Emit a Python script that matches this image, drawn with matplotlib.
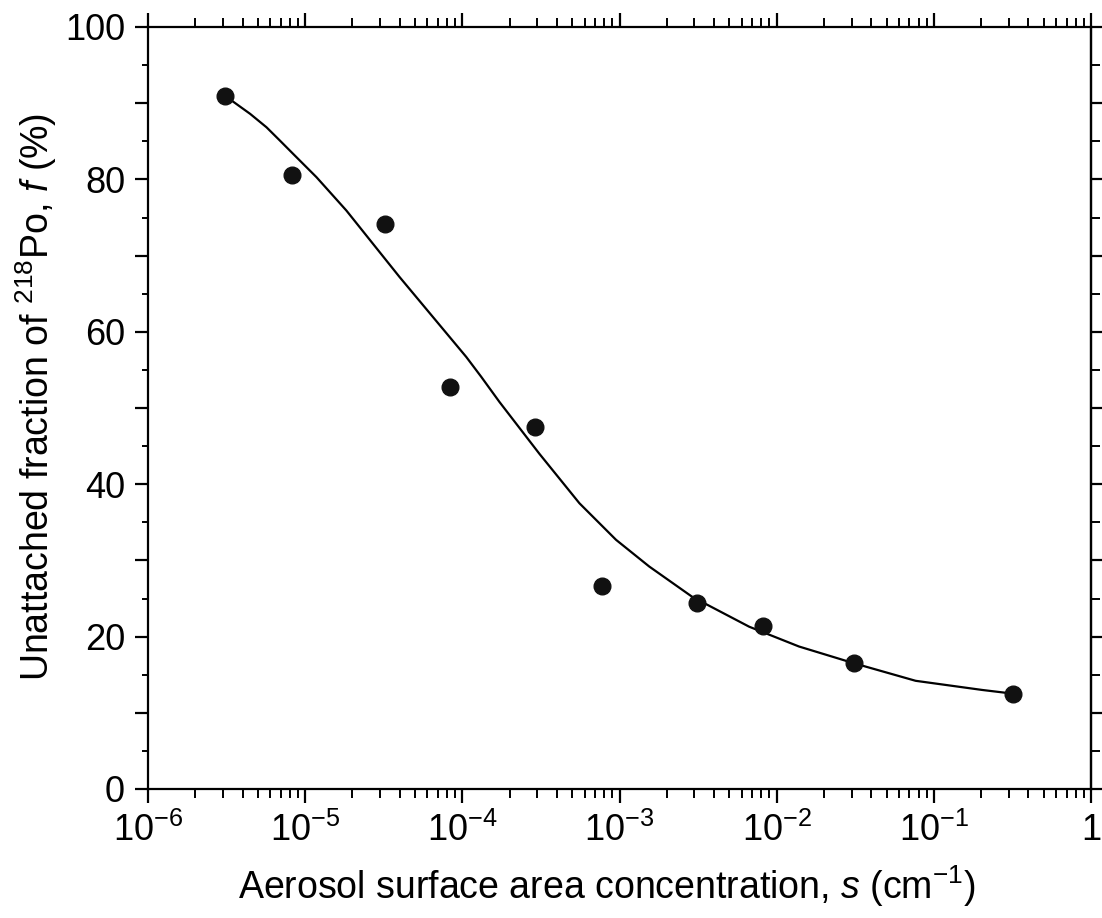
import numpy as np
import matplotlib
matplotlib.use("Agg")
import matplotlib.pyplot as plt
from matplotlib.ticker import FixedLocator, FixedFormatter, LogLocator, NullFormatter, MultipleLocator, FuncFormatter

plt.rcParams['font.family'] = ['Liberation Sans', 'DejaVu Sans']
plt.rcParams['mathtext.fontset'] = 'custom'
plt.rcParams['mathtext.rm'] = 'Liberation Sans'
plt.rcParams['mathtext.it'] = 'Liberation Sans:italic'
plt.rcParams['mathtext.default'] = 'regular'

# measured data points
s_points = [3.1e-6, 8.3e-6, 3.2e-5, 8.4e-5, 2.9e-4, 7.7e-4, 3.1e-3, 8.2e-3, 3.1e-2, 3.2e-1]
f_points = [90.9, 80.6, 74.2, 52.7, 47.5, 26.6, 24.4, 21.4, 16.6, 12.5]

# fitted curve (log10 of s, f in %)
curve_logs = [-5.511, -5.458, -5.350, -5.246, -5.161, -5.077, -4.928, -4.738,
              -4.569, -4.399, -4.187, -3.975, -3.880, -3.764, -3.510, -3.255,
              -3.022, -2.811, -2.536, -2.175, -1.858, -1.508, -1.116, -0.693, -0.492]
curve_f = [91.0, 90.2, 88.6, 86.84, 85.1, 83.36, 80.29, 75.92,
           71.56, 67.18, 61.94, 56.70, 54.1, 50.8, 44.0, 37.5,
           32.7, 29.2, 25.2, 21.3, 18.7, 16.5, 14.2, 13.0, 12.5]

x_tick_vals = [1e-6, 1e-5, 1e-4, 1e-3, 1e-2, 1e-1, 1]
x_tick_labels = ['10$^{−6}$', '10$^{−5}$', '10$^{−4}$', '10$^{−3}$', '10$^{−2}$', '10$^{−1}$', '1']
y_label_step = 20

fig = plt.figure(figsize=(11.02, 9.18), dpi=100)
ax = fig.add_axes([148/1102, 1-789/918, (1091-148)/1102, (789-27)/918])

curve_s = [10**v for v in curve_logs]
ax.plot(curve_s, curve_f, color='black', lw=1.6, solid_capstyle='round', solid_joinstyle='round')
ax.plot(s_points, f_points, 'o', color='#111111', markersize=12, zorder=3)

ax.set_xscale('log')
ax.set_xlim(1e-6, 1)
ax.set_ylim(0, 100)

ax.xaxis.set_major_locator(FixedLocator(x_tick_vals))
ax.xaxis.set_major_formatter(FixedFormatter(x_tick_labels))
ax.xaxis.set_minor_locator(LogLocator(base=10, subs=np.arange(2, 10), numticks=20))
ax.xaxis.set_minor_formatter(NullFormatter())

ax.yaxis.set_major_locator(MultipleLocator(10))
ax.yaxis.set_major_formatter(FuncFormatter(lambda v, p: f"{int(round(v))}" if int(round(v)) % y_label_step == 0 else ""))
ax.yaxis.set_minor_locator(MultipleLocator(5))

for sp in ax.spines.values():
    sp.set_linewidth(1.6)

ax.tick_params(axis='x', which='major', direction='out', length=10, width=1.6,
               top=True, bottom=True, labelsize=26, pad=7)
ax.tick_params(axis='x', which='minor', direction='out', length=6.5, width=1.4,
               top=True, bottom=True)
ax.tick_params(axis='y', which='major', direction='out', length=9.5, width=1.6,
               left=True, right=False, labelsize=26, pad=7)
ax.tick_params(axis='y', which='minor', direction='out', length=4, width=1.4,
               left=True, right=False)

sec = ax.secondary_yaxis('right')
sec.yaxis.set_major_locator(MultipleLocator(10))
sec.yaxis.set_minor_locator(MultipleLocator(5))
sec.yaxis.set_major_formatter(NullFormatter())
sec.tick_params(which='major', direction='out', length=10, width=1.6)
sec.tick_params(which='minor', direction='out', length=6.5, width=1.4)
sec.spines['right'].set_linewidth(1.6)

ax.set_xlabel('Aerosol surface area concentration, $\\it{s}$ (cm$^{−1}$)', fontsize=27)
ax.set_ylabel('Unattached fraction of $^{218}$Po, $\\it{f}$ (%)', fontsize=27)
ax.xaxis.set_label_coords(0.487, -0.097)
ax.yaxis.set_label_coords(-0.094, 0.514)

fig.savefig('out.png', dpi=100)
